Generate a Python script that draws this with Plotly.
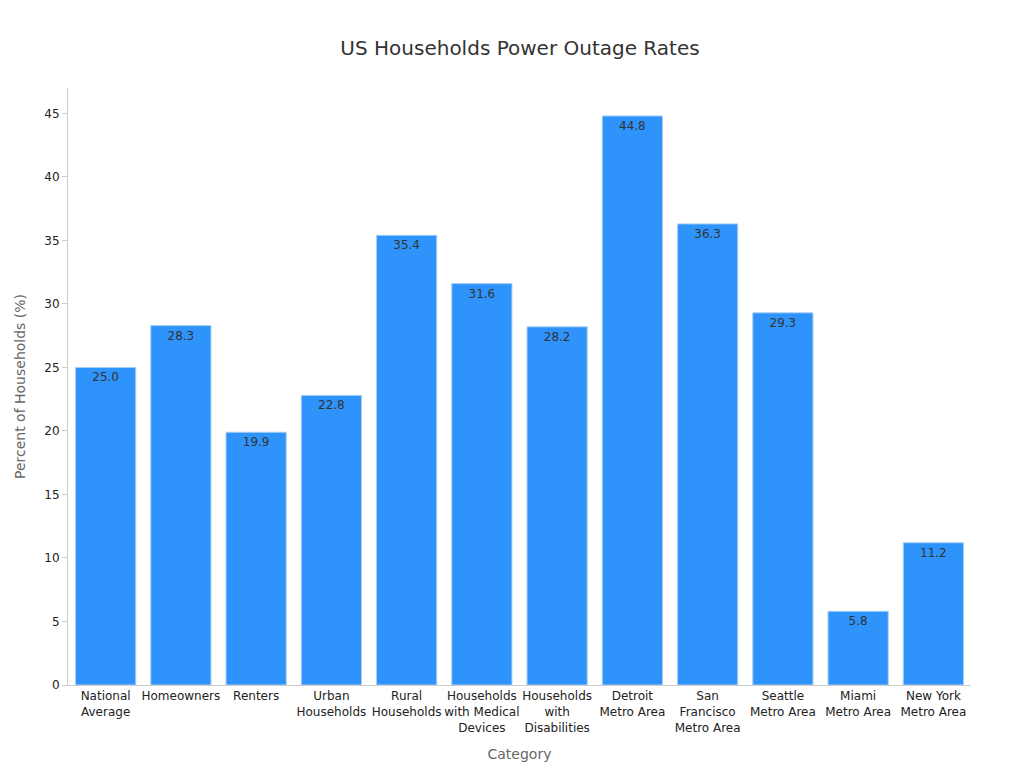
import plotly.graph_objects as go

categories = ["National<br>Average", "Homeowners", "Renters", "Urban<br>Households",
              "Rural<br>Households", "Households<br>with Medical<br>Devices",
              "Households<br>with<br>Disabilities", "Detroit<br>Metro Area",
              "San<br>Francisco<br>Metro Area", "Seattle<br>Metro Area",
              "Miami<br>Metro Area", "New York<br>Metro Area"]
values = [25.0, 28.3, 19.9, 22.8, 35.4, 31.6, 28.2, 44.8, 36.3, 29.3, 5.8, 11.2]

fig = go.Figure(go.Bar(
    x=categories, y=values,
    text=[f"{v:.1f}" for v in values], textposition="inside",
    insidetextanchor="end", textfont=dict(size=12, color="#333333"),
    marker=dict(color="#2E93FA", line=dict(color="#A8CFF5", width=1)),
))
fig.update_layout(
    width=1024, height=768,
    title=dict(text="US Households Power Outage Rates", x=0.5, y=0.957,
               font=dict(size=20, color="#333333")),
    font=dict(family="DejaVu Sans", size=12, color="#222222"),
    plot_bgcolor="white", paper_bgcolor="white",
    margin=dict(l=60, r=61, t=80, b=91),
    bargap=0.2,
    xaxis=dict(title=dict(text="Category", font=dict(size=14, color="#666666")),
               showline=True, linecolor="#cccccc", tickangle=0),
    yaxis=dict(title=dict(text="Percent of Households (%)", font=dict(size=14, color="#666666")),
               showline=True, linecolor="#cccccc", showgrid=False, range=[0, 47],
               dtick=5, ticks="outside", ticklen=5, tickcolor="#cccccc", zeroline=False),
)
fig.write_html("out.html")
